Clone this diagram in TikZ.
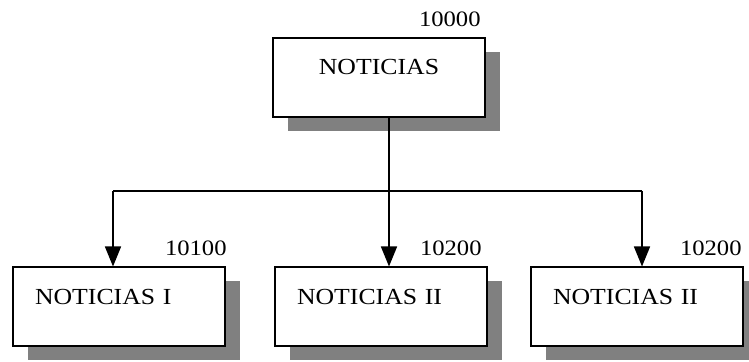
\documentclass[tikz,border=0pt]{standalone}
\usepackage{fontspec}
\setmainfont{Liberation Serif}[FakeStretch=1.12]
\usetikzlibrary{arrows.meta,shadows}
\definecolor{shadowgray}{RGB}{128,128,128}

\tikzset{
  box/.style={draw, line width=1pt, fill=white, minimum width=106pt,
    minimum height=39.5pt, text height=8pt, text depth=10.9pt,
    font=\fontsize{11.5}{14}\selectfont,
    drop shadow={shadow xshift=7.5pt, shadow yshift=-7pt,
      fill=shadowgray, opacity=1}},
  leftbox/.style={box, text width=84pt, inner xsep=11pt, align=left},
  code/.style={font=\fontsize{11}{13}\selectfont, anchor=south east,
    inner sep=0pt, yshift=5pt},
  link/.style={line width=0.75pt},
  arrow/.style={link, -{Triangle[width=8pt,length=10pt]}}
}

\begin{document}
\begin{tikzpicture}[x=0.5pt,y=-0.5pt]
      \useasboundingbox (0,0) rectangle (749,362);
      % boxes
      \node (noticias) [box, label={[code, xshift=-2.5pt]north east:10000}]
        at (379,77.5) {NOTICIAS};
      \node (noticiasI) [leftbox, label={[code, xshift=0.5pt]north east:10100}]
        at (119,307) {NOTICIAS I};
      \node (noticiasII) [leftbox, label={[code, xshift=-3pt]north east:10200}]
        at (381,307) {NOTICIAS II};
      \node (noticiasIII) [leftbox, label={[code, xshift=-1pt]north east:10200}]
        at (637,307) {NOTICIAS II};
      % connectors
      \coordinate (hub) at (389,191);
      \coordinate (busI) at (113,191);
      \coordinate (busIII) at (642,191);
      \draw[link] (noticias.south -| hub) -- (hub);
      \draw[link] (busI) -- (busIII);
      \draw[arrow] (busI) -- (busI |- noticiasI.north);
      \draw[arrow] (hub) -- (hub |- noticiasII.north);
      \draw[arrow] (busIII) -- (busIII |- noticiasIII.north);
    \end{tikzpicture}
\end{document}
